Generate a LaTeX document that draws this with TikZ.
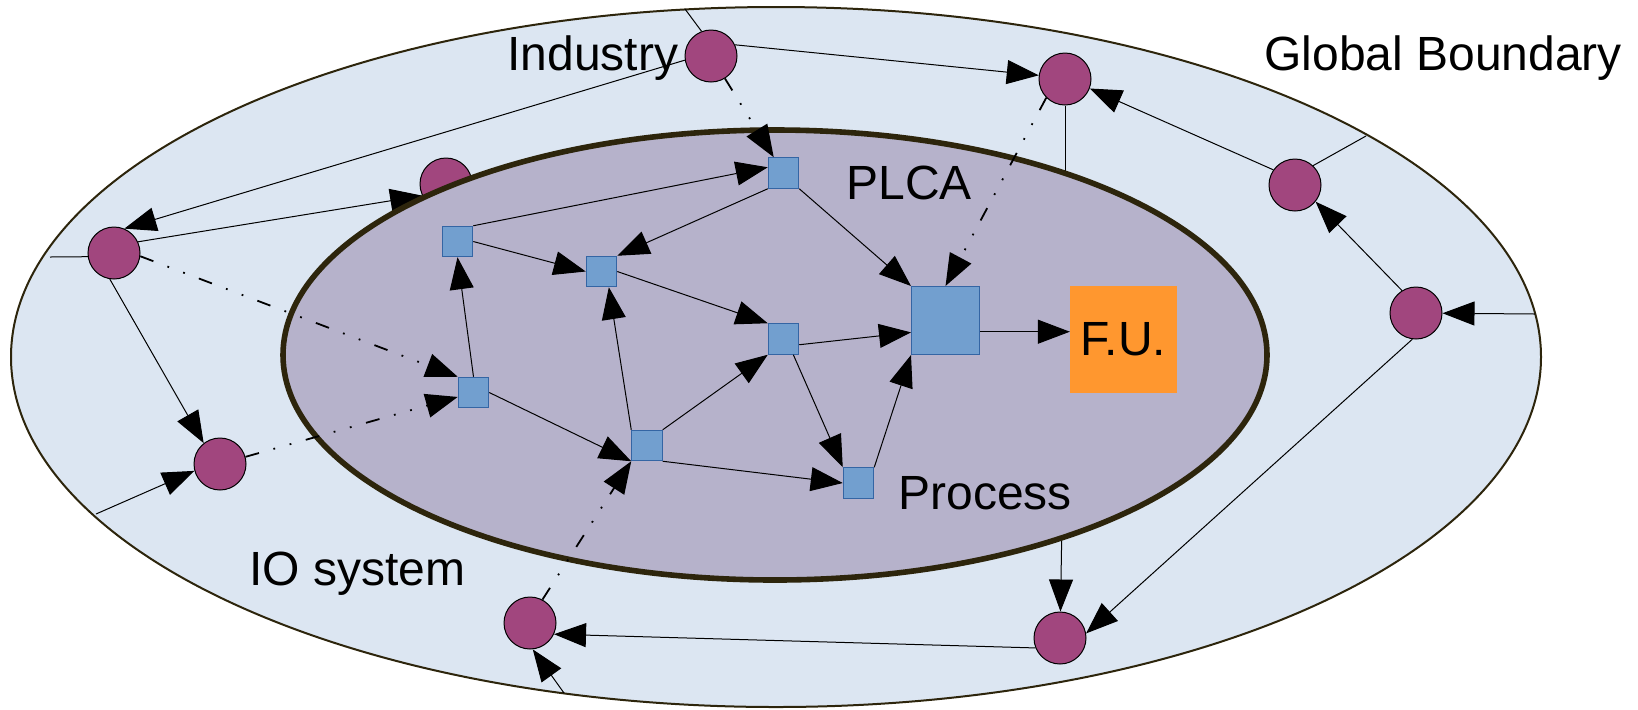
\documentclass[tikz,border=0pt]{standalone}
\usepackage{fontspec}
\setmainfont{Liberation Sans}
\usetikzlibrary{arrows.meta}
\definecolor{outerfill}{RGB}{220,230,242}
\definecolor{innerfill}{RGB}{182,178,203}
\definecolor{rimcol}{RGB}{45,37,12}
\definecolor{circfill}{RGB}{161,70,126}
\definecolor{sqfill}{RGB}{114,159,207}
\definecolor{sqborder}{RGB}{52,101,164}
\definecolor{fufill}{RGB}{255,151,47}
\tikzset{
  proc/.style={draw=sqborder, fill=sqfill, line width=0.5pt, minimum size=15.25pt, inner sep=0pt},
  bigproc/.style={proc, minimum size=34pt},
  actor/.style={circle, draw=black, fill=circfill, line width=0.5pt, minimum size=26pt, inner sep=0pt},
  tip/.style={-{Triangle[length=16pt,width=12pt]}},
  flow/.style={line width=0.5pt, tip},
  link/.style={line width=0.5pt},
  dotflow/.style={line width=0.9pt, dash pattern=on 7pt off 7.5pt on 0.9pt off 7.5pt on 0.9pt off 7.5pt, tip},
  lbl/.style={font=\fontsize{24}{28}\selectfont, inner sep=0pt, anchor=base west},
}
\begin{document}
\begin{tikzpicture}[x=0.5pt,y=-0.5pt]
\useasboundingbox (0,0) rectangle (1638,709);
% outer boundary
\draw[fill=outerfill, draw=rimcol, line width=1pt] (776,357) ellipse [x radius=382.5pt, y radius=175pt];
% actors (IO system)
\node[actor] (ind) at (711,56) {};
\node[actor] (A2) at (1065,79) {};
\node[actor] (A3) at (1295,185) {};
\node[actor] (A4) at (1416,313) {};
\node[actor] (A5) at (1060,638) {};
\node[actor] (A6) at (530,623) {};
\node[actor] (A7) at (220,464) {};
\node[actor] (A8) at (114,253) {};
\node[actor] (A9) at (446,184) {};
% boundary points
\coordinate (o1) at (685,9);
\coordinate (o3) at (1366,136);
\coordinate (o4) at (1535,314);
\coordinate (o6) at (564,693);
\coordinate (o7) at (96,514);
\coordinate (o8) at (50,257);
\coordinate (a2in) at (1065,230);
\coordinate (a5in) at (1062,520);
% connectors passing under the PLCA boundary
\draw[flow] (A8.25) -- (A9.206);
\draw[link] (A2) -- (a2in);
\draw[flow] (a5in) -- (A5);
% PLCA boundary
\draw[fill=innerfill, draw=rimcol, line width=2.8pt] (775,355) ellipse [x radius=246pt, y radius=112.5pt];
% processes
\node[proc] (S1) at (783.5,173) {};
\node[proc] (S2) at (457.5,241.5) {};
\node[proc] (S3) at (601.5,271.5) {};
\node[proc] (S4) at (783.5,339) {};
\node[proc] (S5) at (473.5,392.5) {};
\node[proc] (S6) at (647,445.5) {};
\node[proc] (S7) at (858.5,483) {};
\node[bigproc] (S8) at (945.5,320.5) {};
\node[fill=fufill, minimum size=53.25pt, inner sep=0pt, font=\fontsize{24}{28}\selectfont] (FU) at (1123.5,339.5) {F.U.};
% IO connectors
\draw[link] (o1) -- (ind.111);
\draw[flow] (ind.25) -- (A2.172);
\draw[flow] (ind.189) -- (A8.67);
\draw[flow] (A3.145) -- (A2.-21);
\draw[link] (A3.47) -- (o3);
\draw[flow] (A4.122) -- (A3.-39);
\draw[flow] (o4) -- (A4);
\draw[flow] (A4.-98) -- (A5.10);
\draw[flow] (A5.202) -- (A6.-25);
\draw[flow] (o6) -- (A6.-84);
\draw[flow] (A8.-99) -- (A7.128);
\draw[flow] (o7) -- (A7.195);
\draw[link] (o8) -- (A8.188);
% links between systems
\draw[dotflow] (ind) -- (S1);
\draw[dotflow] (A2.225) -- (S8.north);
\draw[dotflow] (A6.62) -- (S6.south west);
\draw[dotflow] (A7) -- (S5);
\draw[dotflow] (A8.-7) -- (S5.north west);
% process connectors
\draw[flow] (S2.north east) -- (S1.160);
\draw[flow] (S1.south west) -- (S3.north east);
\draw[flow] (S1.south east) -- (S8.north west);
\draw[flow] (S2.east) -- (S3.west);
\draw[flow] (S3.east) -- (S4.north west);
\draw[flow] (S5.north) -- (S2.south);
\draw[flow] (S6.north west) -- (S3.-65);
\draw[flow] (S5.east) -- (S6.south west);
\draw[flow] (S6.north east) -- (S4.south west);
\draw[flow] (S6.south east) -- (S7.west);
\draw[flow] (S4.-20) -- (S8.199);
\draw[flow] (S4.-58) -- (S7.north west);
\draw[flow] (S7.north east) -- (S8.south west);
\draw[flow] (S8.-18) -- (S8.-18 -| FU.west);
% labels
\node[lbl] (tInd) at (507,70) {Industry};
\node[lbl] (tGB) at (1264,70) {Global Boundary};
\node[lbl] (tPLCA) at (846,199) {PLCA};
\node[lbl] (tProc) at (898,509) {Process};
\node[lbl] (tIO) at (249,585) {IO system};
\end{tikzpicture}
\end{document}
